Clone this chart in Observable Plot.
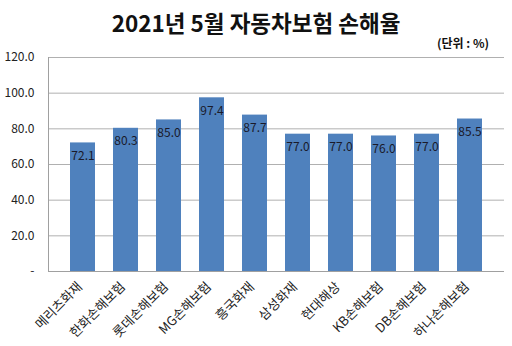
<!DOCTYPE html>
<html><head><meta charset="utf-8">
<script src="https://cdn.jsdelivr.net/npm/d3@7"></script>
<script src="https://cdn.jsdelivr.net/npm/@observablehq/plot@0.6"></script>
<style>
body{margin:0;background:#fff;font-family:"Noto Sans CJK KR",sans-serif;}
#wrap{position:relative;width:512px;height:346px;}
#title{position:absolute;left:0;top:7px;width:512px;text-align:center;font-size:22.5px;font-weight:bold;color:#111;line-height:30px;}
#unit{position:absolute;right:23px;top:35px;font-size:12px;font-weight:bold;color:#111;line-height:16px;}
#chart{position:absolute;left:0;top:0;}
</style></head>
<body>
<div id="wrap">
<div id="chart"></div>
<div id="title">2021년 5월 자동차보험 손해율</div>
<div id="unit">(단위 : %)</div>
</div>
<script>
const companies = ["메리츠화재","한화손해보험","롯데손해보험","MG손해보험","흥국화재","삼성화재","현대해상","KB손해보험","DB손해보험","하나손해보험"];
const lossRatio = [72.1,80.3,85.0,97.4,87.7,77.0,77.0,76.0,77.0,85.5];
const yTicks = [0,20,40,60,80,100,120];
const data = companies.map((c,i)=>({company:c, value:lossRatio[i]}));

const chart = Plot.plot({
  width: 512,
  height: 346,
  marginLeft: 48,
  marginRight: 8,
  marginTop: 57,
  marginBottom: 75,
  style: {fontFamily: '"Noto Sans CJK KR", sans-serif', fontSize: "11px", color: "#222", background: "white"},
  x: {domain: companies, padding: 0.43, label: null},
  y: {domain: [0,120], label: null},
  marks: [
    Plot.gridY(yTicks, {stroke: "#b0b0b0", strokeOpacity: 1}),
    Plot.barY(data, {x: "company", y: "value", fill: "#4F81BD"}),
    Plot.text(data, {x: "company", y: "value", text: d => d.value.toFixed(1), dy: 13, fill: "#1a1a2a", fontSize: 12}),
    Plot.ruleY([0], {stroke: "#a0a0a0"}),
    Plot.axisY(yTicks, {tickSize: 0, tickPadding: 14, tickFormat: d => d === 0 ? "-" : d.toFixed(1), fontSize: 12, fill: "#222"}),
    Plot.axisX({tickSize: 0, tickRotate: -45, tickPadding: 13, dx: -3, fontSize: 13, fill: "#222", textAnchor: "end"}),
    Plot.frame({anchor: "left", stroke: "#a0a0a0"})
  ]
});
document.getElementById("chart").appendChild(chart);
</script>
</body></html>
